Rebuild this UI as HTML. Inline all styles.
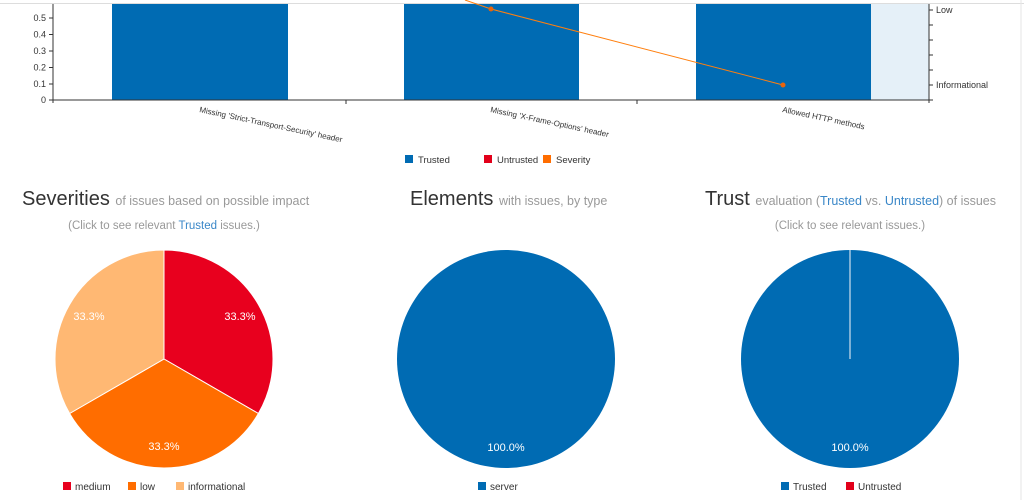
<!DOCTYPE html>
<html><head><meta charset="utf-8"><style>
html,body{margin:0;padding:0;background:#fff;width:1024px;height:500px;overflow:hidden}
svg{display:block;font-family:"Liberation Sans",sans-serif}
</style></head><body>
<svg width="1024" height="500" viewBox="0 0 1024 500">
<line x1="0" y1="3.5" x2="1024" y2="3.5" stroke="#ddd"/>
<line x1="1021" y1="0" x2="1021" y2="500" stroke="#e6e6e6"/>
<rect x="112" y="4" width="176" height="96" fill="#006bb3"/>
<rect x="404" y="4" width="175" height="96" fill="#006bb3"/>
<rect x="696" y="4" width="175" height="96" fill="#006bb3"/>
<rect x="871" y="4" width="58" height="96" fill="#e5f0f8"/>
<g stroke="#333" stroke-width="1">
<line x1="53" y1="100" x2="929" y2="100"/>
<line x1="53" y1="4" x2="53" y2="103"/>
<line x1="929" y1="4" x2="929" y2="103"/>
<line x1="346" y1="100" x2="346" y2="104"/>
<line x1="637" y1="100" x2="637" y2="104"/>
<line x1="49" y1="100" x2="53" y2="100"/><line x1="49" y1="84" x2="53" y2="84"/><line x1="49" y1="67.5" x2="53" y2="67.5"/><line x1="49" y1="51" x2="53" y2="51"/><line x1="49" y1="34.5" x2="53" y2="34.5"/><line x1="49" y1="18" x2="53" y2="18"/>
<line x1="929" y1="10" x2="933" y2="10"/><line x1="929" y1="25" x2="933" y2="25"/><line x1="929" y1="40" x2="933" y2="40"/><line x1="929" y1="55" x2="933" y2="55"/><line x1="929" y1="70" x2="933" y2="70"/><line x1="929" y1="85" x2="933" y2="85"/><line x1="929" y1="100" x2="933" y2="100"/>
</g>
<g font-size="9" fill="#333" text-anchor="end">
<text x="46" y="103">0</text><text x="46" y="87">0.1</text><text x="46" y="70.5">0.2</text><text x="46" y="54">0.3</text><text x="46" y="37.5">0.4</text><text x="46" y="21">0.5</text>
</g>
<g font-size="9" fill="#333"><text x="936" y="13">Low</text><text x="936" y="88">Informational</text></g>
<g font-size="8" fill="#333">
<text transform="translate(199,112) rotate(12)">Missing 'Strict-Transport-Security' header</text>
<text transform="translate(490,112) rotate(12)">Missing 'X-Frame-Options' header</text>
<text transform="translate(782,112) rotate(12)">Allowed HTTP methods</text>
</g>
<polyline points="465,0 491,9 783,85" fill="none" stroke="#ff7f0e" stroke-width="1"/>
<circle cx="491" cy="9" r="2.5" fill="#e8640c"/><circle cx="783" cy="85" r="2.5" fill="#e8640c"/>
<g font-size="9.5" fill="#333">
<rect x="405" y="155" width="8" height="8" fill="#006bb3"/><text x="418" y="163">Trusted</text>
<rect x="484" y="155" width="8" height="8" fill="#e2001a"/><text x="497" y="163">Untrusted</text>
<rect x="543" y="155" width="8" height="8" fill="#ff6d00"/><text x="556" y="163">Severity</text>
</g>
<text x="22" y="205" font-size="20" fill="#333">Severities <tspan font-size="12.5" fill="#999">of issues based on possible impact</tspan></text>
<text x="164" y="229" font-size="11.5" fill="#999" text-anchor="middle">(Click to see relevant <tspan fill="#3a87c8">Trusted</tspan> issues.)</text>
<text x="410" y="205" font-size="20" fill="#333">Elements <tspan font-size="12.5" fill="#999">with issues, by type</tspan></text>
<text x="705" y="205" font-size="20" fill="#333">Trust <tspan font-size="12.5" fill="#999">evaluation (<tspan fill="#3a87c8">Trusted</tspan> vs. <tspan fill="#3a87c8">Untrusted</tspan>) of issues</tspan></text>
<text x="850" y="229" font-size="11.5" fill="#999" text-anchor="middle">(Click to see relevant issues.)</text>
<g stroke="#fff" stroke-width="1">
<path d="M164,359 L164,250 A109,109 0 0 1 258.4,413.5 Z" fill="#e8001e"/>
<path d="M164,359 L258.4,413.5 A109,109 0 0 1 69.6,413.5 Z" fill="#ff6d00"/>
<path d="M164,359 L69.6,413.5 A109,109 0 0 1 164,250 Z" fill="#ffb873"/>
</g>
<g font-size="11" fill="#fff" text-anchor="middle">
<text x="240" y="320">33.3%</text><text x="164" y="450">33.3%</text><text x="89" y="320">33.3%</text>
</g>
<circle cx="506" cy="359" r="109" fill="#006bb3"/>
<text x="506" y="451" font-size="11" fill="#fff" text-anchor="middle">100.0%</text>
<circle cx="850" cy="359" r="109" fill="#006bb3"/>
<line x1="850" y1="250" x2="850" y2="359" stroke="#cfe0ee" stroke-width="1.2"/>
<text x="850" y="451" font-size="11" fill="#fff" text-anchor="middle">100.0%</text>
<g font-size="10" fill="#333">
<rect x="63" y="482" width="8" height="8" fill="#e8001e"/><text x="75" y="490">medium</text>
<rect x="128" y="482" width="8" height="8" fill="#ff6d00"/><text x="140" y="490">low</text>
<rect x="176" y="482" width="8" height="8" fill="#ffb873"/><text x="188" y="490">informational</text>
<rect x="478" y="482" width="8" height="8" fill="#006bb3"/><text x="490" y="490">server</text>
<rect x="781" y="482" width="8" height="8" fill="#006bb3"/><text x="793" y="490">Trusted</text>
<rect x="846" y="482" width="8" height="8" fill="#e2001a"/><text x="858" y="490">Untrusted</text>
</g>
</svg>
</body></html>
